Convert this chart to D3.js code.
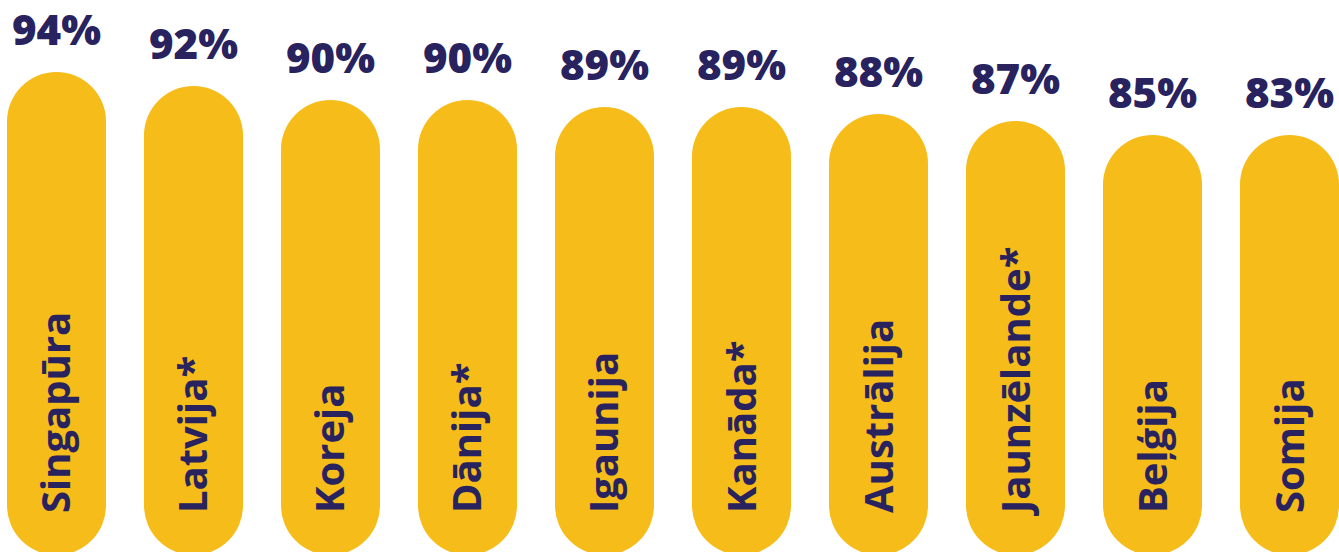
<!DOCTYPE html>
<html>
<head>
<meta charset="utf-8">
<script src="https://cdn.jsdelivr.net/npm/d3@7"></script>
<style>
  html, body { margin: 0; padding: 0; background: #fff; overflow: hidden; }
</style>
</head>
<body>
<div id="chart"></div>
<script>
// chart values
const countries = ["Singapūra", "Latvija*", "Koreja", "Dānija*", "Igaunija", "Kanāda*", "Austrālija", "Jaunzēlande*", "Beļģija", "Somija"];
const shares = [94, 92, 90, 90, 89, 89, 88, 87, 85, 83];
const valueLabels = ["94%", "92%", "90%", "90%", "89%", "89%", "88%", "87%", "85%", "83%"];

const width = 1339, height = 552;
const bottom = 555; // bars run slightly past the bottom edge

const svg = d3.select("#chart")
  .append("svg")
  .attr("width", width)
  .attr("height", height);

const x = d3.scaleBand()
  .domain(countries)
  .range([7, 1339])
  .paddingInner(0.2774)
  .paddingOuter(0);

// the original picture stops shrinking below 85%
const y = d3.scaleLinear()
  .domain([85, 94])
  .range([135, 72])
  .clamp(true);

const bw = x.bandwidth();

svg.selectAll("rect.bar")
  .data(countries)
  .join("rect")
  .attr("class", "bar")
  .attr("x", d => x(d))
  .attr("y", (d, i) => y(shares[i]))
  .attr("width", bw)
  .attr("height", (d, i) => bottom - y(shares[i]))
  .attr("rx", bw / 2)
  .attr("ry", bw / 2)
  .attr("fill", "#F6BC1A");

svg.selectAll("text.value")
  .data(valueLabels)
  .join("text")
  .attr("class", "value")
  .attr("x", (d, i) => x(countries[i]) + bw / 2)
  .attr("y", (d, i) => y(shares[i]) - 27)
  .attr("text-anchor", "middle")
  .style("font-family", "'Open Sans', sans-serif")
  .style("font-weight", 800)
  .style("font-size", "42px")
  .style("fill", "#28235F")
  .text(d => d);

svg.selectAll("text.country")
  .data(countries)
  .join("text")
  .attr("class", "country")
  .attr("transform", d => `translate(${x(d) + bw / 2},513) rotate(-90)`)
  .attr("dy", "0.35em")
  .attr("text-anchor", "start")
  .style("font-family", "'Open Sans', sans-serif")
  .style("font-weight", 700)
  .style("font-size", "40px")
  .style("fill", "#28235F")
  .text(d => d);
</script>
</body>
</html>
